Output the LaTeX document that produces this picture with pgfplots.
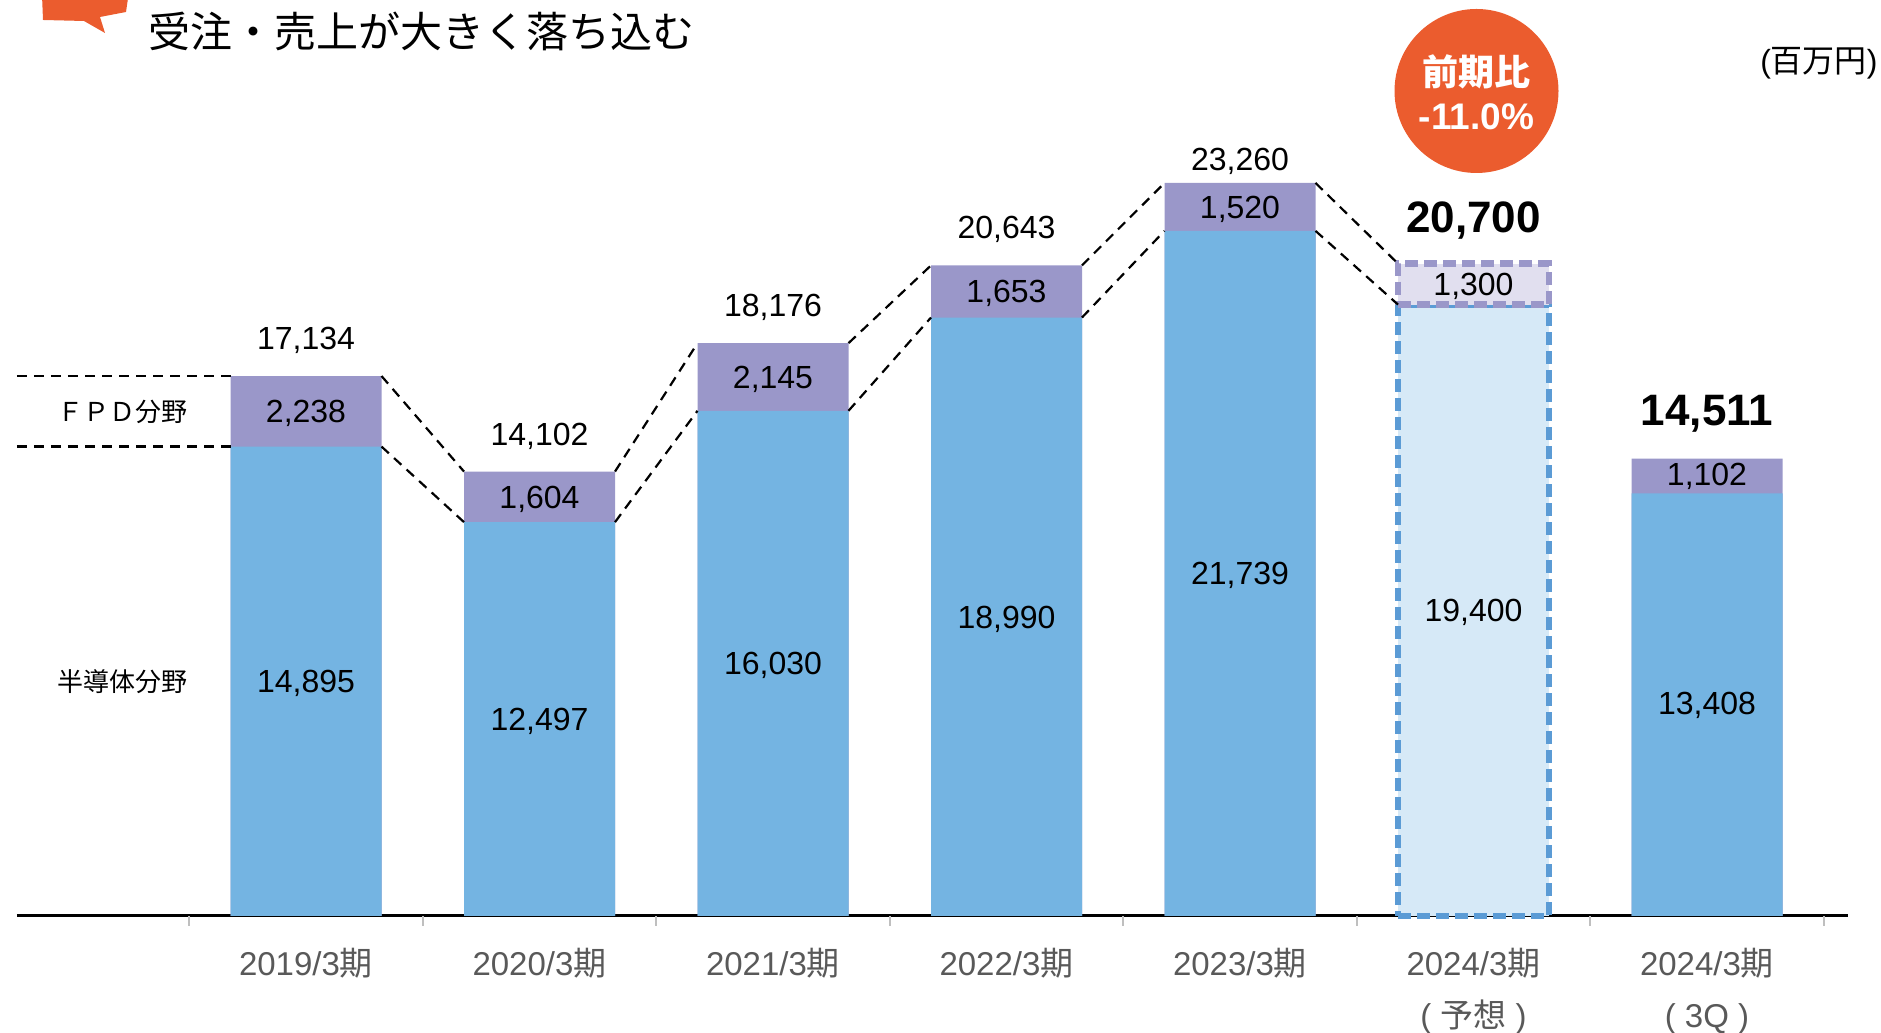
\documentclass[border=0pt]{standalone}
\usepackage{pgfplots}
\pgfplotsset{compat=1.18}
\usepackage{pgfplotstable}
\usepackage{fontspec}
\setmainfont{Liberation Sans}
\newfontfamily\cjk{Noto Sans CJK JP}
\definecolor{semi}{HTML}{74B4E2}
\definecolor{fpd}{HTML}{9A97C9}
\definecolor{semilight}{HTML}{D6E9F7}
\definecolor{fpdlight}{HTML}{E1DFEF}
\definecolor{semiedge}{HTML}{5B9BD5}
\definecolor{accent}{HTML}{EB5C2E}
\definecolor{labgray}{HTML}{595959}

% actual results (x, semiconductor, FPD, total)
\pgfplotstableread{
x semi fpd total
0 14895 2238 17134
1 12497 1604 14102
2 16030 2145 18176
3 18990 1653 20643
4 21739 1520 23260
6 13408 1102 14511
}\actual

% value labels (centre positions)
\pgfplotstableread{
x y lab
0 7447.5 14,895
1 6248.5 12,497
2 8015 16,030
3 9495 18,990
4 10869.5 21,739
5 9700 19,400
6 6754 13,408
0 16014 2,238
1 13299 1,604
2 17102.5 2,145
3 19816.5 1,653
4 22499 1,520
5 20050 1,300
6 14010 1,102
0 18340 17,134
1 15308 14,102
2 19382 18,176
3 21849 20,643
4 24021 23,260
}\labels

\pgfplotstableread{
x y lab
5 22179 20,700
6 16060 14,511
}\boldlabels

\begin{document}
\begin{tikzpicture}
\path[use as bounding box] (0,0) rectangle (940.5pt,516.5pt);
\begin{axis}[
  at={(8.5pt,58.5pt)}, anchor=south west,
  scale only axis, width=915.5pt, height=458pt,
  xmin=-1.2377, xmax=6.6039, ymin=0, ymax=29065,
  clip=false,
  axis x line=bottom, axis y line=none,
  x axis line style={black, line width=1.5pt, -},
  xtick={0,1,2,3,4,5,6},
  xticklabels={
    2019/3{\cjk 期},
    2020/3{\cjk 期},
    2021/3{\cjk 期},
    2022/3{\cjk 期},
    2023/3{\cjk 期},
    2024/3{\cjk 期}\\( {\cjk 予想} ),
    2024/3{\cjk 期}\\( 3Q )
  },
  major tick length=0pt,
  xticklabel style={font=\fontsize{16.5}{26}\selectfont, text=labgray, align=center, anchor=north, inner sep=0pt, yshift=-15.8pt},
  extra x ticks={-0.5,0.5,1.5,2.5,3.5,4.5,5.5,6.5},
  extra x tick labels={},
  extra x tick style={major tick length=5pt, tick align=outside, tick style={draw=black!25, line width=0.8pt}},
  conn/.style={black, line width=1.1pt, dash pattern=on 5pt off 3.5pt, mark=none},
]
% normal bars: FPD as total bar, semiconductor over it
\addplot[ybar, bar width=0.6467, bar shift=0pt, fill=fpd, draw=none] table[x=x,y=total]{\actual};
\addplot[ybar, bar width=0.6467, bar shift=0pt, fill=semi, draw=none] table[x=x,y=semi]{\actual};
% forecast bar
\addplot[ybar, bar width=0.6467, bar shift=0pt, fill=semilight, draw=semiedge, line width=3.2pt, dash pattern=on 6.5pt off 3pt] coordinates {(5,19400)};
\addplot[fill=fpdlight, draw=fpd, line width=3.2pt, dash pattern=on 6.5pt off 3pt, mark=none] coordinates {(4.6767,19400) (5.3233,19400) (5.3233,20700) (4.6767,20700)} -- cycle;

% connector lines
\addplot[conn] coordinates {(0.3233,17134) (0.6767,14102)};
\addplot[conn] coordinates {(0.3233,14895) (0.6767,12497)};
\addplot[conn] coordinates {(1.3233,14102) (1.6767,18176)};
\addplot[conn] coordinates {(1.3233,12497) (1.6767,16030)};
\addplot[conn] coordinates {(2.3233,18176) (2.6767,20643)};
\addplot[conn] coordinates {(2.3233,16030) (2.6767,18990)};
\addplot[conn] coordinates {(3.3233,20643) (3.6767,23260)};
\addplot[conn] coordinates {(3.3233,18990) (3.6767,21739)};
\addplot[conn] coordinates {(4.3233,23260) (4.6767,20700)};
\addplot[conn] coordinates {(4.3233,21739) (4.6767,19400)};
% left legend lines
\addplot[conn] coordinates {(-1.2377,17134) (-0.3233,17134)};
\addplot[conn] coordinates {(-1.2377,14895) (-0.3233,14895)};

% value labels
\addplot[only marks, mark=*, mark size=0pt, mark options={draw=none,fill=none},
  point meta=explicit symbolic, nodes near coords,
  every node near coord/.append style={font=\fontsize{16}{16}\selectfont, text=black, anchor=center, inner sep=0pt, text height=11.46pt, text depth=0pt}]
  table[x=x,y=y,meta=lab]{\labels};
\addplot[only marks, mark=*, mark size=0pt, mark options={draw=none,fill=none},
  point meta=explicit symbolic, nodes near coords,
  every node near coord/.append style={font=\bfseries\fontsize{22}{22}\selectfont, text=black, anchor=center, inner sep=0pt, text height=15.75pt, text depth=0pt}]
  table[x=x,y=y,meta=lab]{\boldlabels};

\node[font=\cjk\fontsize{13}{13}\selectfont, inner sep=0pt, text height=11.44pt, text depth=1.56pt] at (axis cs:-0.788,16014) {ＦＰＤ分野};
\node[font=\cjk\fontsize{13}{13}\selectfont, inner sep=0pt, text height=11.44pt, text depth=1.56pt] at (axis cs:-0.788,7447) {半導体分野};
\end{axis}

\begin{scope}[x=0.5pt, y=-0.5pt, shift={(0pt,516.5pt)}]
\fill[accent] (42,-5) -- (128.5,-5) -- (126,12) -- (100,17) -- (105,33) -- (84,21) -- (43,20) -- cycle;
\node[anchor=west, inner sep=0pt, font=\cjk\fontsize{21}{21}\selectfont, text height=18.48pt, text depth=2.52pt] at (148,32) {受注・売上が大きく落ち込む};
\fill[accent] (1476.5,91) circle[radius=41pt];
\node[text=white, inner sep=0pt, font=\cjk\bfseries\fontsize{18}{18}\selectfont, text height=15.84pt, text depth=2.16pt] at (1476.5,72) {前期比};
\node[text=white, inner sep=0pt, font=\bfseries\fontsize{18.5}{18.5}\selectfont, text height=13.25pt, text depth=0pt] at (1476.5,116) {-11.0\%};
\node[anchor=east, inner sep=0pt, font=\fontsize{16}{16}\selectfont, text height=14.08pt, text depth=1.92pt] at (1878,60) {({\cjk 百万円})};
\end{scope}
\end{tikzpicture}
\end{document}
